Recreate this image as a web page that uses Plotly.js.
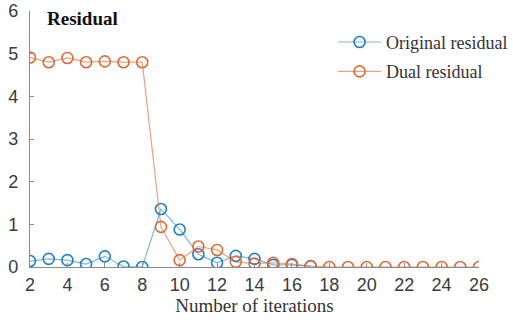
<!DOCTYPE html>
<html>
<head>
<meta charset="utf-8">
<script src="https://cdn.plot.ly/plotly-3.0.1.min.js"></script>
<style>html,body{margin:0;padding:0;background:#fff;}#chart{width:513px;height:320px;}</style>
</head>
<body>
<div id="chart"></div>
<script>
const iterOriginal = [2,3,4,5,6,7,8,9,10,11,12,13,14,15,16,17];
const originalResidual = [0.14,0.19,0.16,0.07,0.25,0.01,0.0,1.36,0.88,0.30,0.10,0.26,0.19,0.05,0.05,0.02];
const iterDual = [2,3,4,5,6,7,8,9,10,11,12,13,14,15,16,17,18,19,20,21,22,23,24,25,26];
const dualResidual = [4.91,4.80,4.90,4.80,4.82,4.80,4.80,0.94,0.16,0.48,0.40,0.12,0.08,0.10,0.07,0.02,0.0,0.0,0.0,0.0,0.0,0.0,0.0,0.0,0.0];
const xTicks = [2,4,6,8,10,12,14,16,18,20,22,24,26];
const yTicks = [0,1,2,3,4,5,6];
const seriesNames = ['Original residual','Dual residual'];
const titleText = 'Residual';
const xTitle = 'Number of iterations';

const traces = [
  {x: iterOriginal, y: originalResidual, name: seriesNames[0], legendgroup: 'a', mode: 'lines+markers', type: 'scatter',
   line: {color: 'rgba(0,114,189,0.5)', width: 1.2},
   marker: {symbol: 'circle-open', size: 11, color: '#1f7fc8', line: {width: 1.6, color: '#1f7fc8'}}},
  {x: iterDual, y: dualResidual, name: seriesNames[1], legendgroup: 'b', mode: 'lines+markers', type: 'scatter',
   line: {color: 'rgba(217,83,25,0.55)', width: 1.2},
   marker: {symbol: 'circle-open', size: 11, color: '#e06a35', line: {width: 1.6, color: '#e06a35'}}}
];

const serif = 'Liberation Serif, Times New Roman, serif';
const sans = 'Liberation Sans, Arial, sans-serif';
const layout = {
  width: 513, height: 320,
  margin: {l: 30, r: 34, t: 11, b: 53, autoexpand: false},
  paper_bgcolor: '#fff', plot_bgcolor: '#fff',
  showlegend: true,
  legend: {x: 0.675, y: 0.95, xanchor: 'left', yanchor: 'top', bgcolor: 'rgba(0,0,0,0)',
           font: {family: serif, size: 18, color: '#333'},
           traceorder: 'grouped', tracegroupgap: 3, itemwidth: 43},
  xaxis: {range: [2, 26], tickvals: xTicks, ticks: 'inside', ticklen: 4, tickcolor: '#8a8a8a',
          showline: true, linecolor: '#8a8a8a', linewidth: 1.2, showgrid: false, zeroline: false,
          ticklabelstandoff: 1, automargin: false,
          tickfont: {family: sans, size: 18, color: '#3a3a3a'},
          title: {text: xTitle, standoff: 0, font: {family: serif, size: 19, color: '#333'}}},
  yaxis: {range: [0, 6], tickvals: yTicks, ticks: 'inside', ticklen: 4, tickcolor: '#8a8a8a',
          showline: true, linecolor: '#8a8a8a', linewidth: 1.2, showgrid: false, zeroline: false,
          ticklabelstandoff: 7, automargin: false,
          tickfont: {family: sans, size: 18, color: '#3a3a3a'}},
  annotations: [{text: '<b>' + titleText + '</b>', xref: 'paper', yref: 'paper', x: 0.033, y: 0.969,
                 xanchor: 'left', yanchor: 'middle', showarrow: false,
                 font: {family: serif, size: 19, color: '#111'}}]
};
Plotly.newPlot('chart', traces, layout, {displayModeBar: false, staticPlot: true});
</script>
</body>
</html>
